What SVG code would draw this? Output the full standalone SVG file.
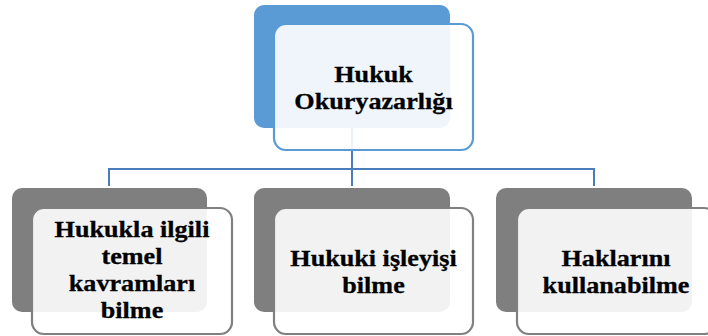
<svg xmlns="http://www.w3.org/2000/svg" width="708" height="336" viewBox="0 0 708 336">
<style>
.back-blue{fill:#5B9BD5;}
.back-gray{fill:#7F7F7F;}
.front-blue{fill:#FFFFFF;fill-opacity:0.9;stroke:#5B9BD5;stroke-width:2.2;}
.front-gray{fill:#FFFFFF;fill-opacity:0.9;stroke:#808080;stroke-width:2.2;}
.conn{fill:none;stroke:#4A7EBB;stroke-width:2;}
text{font-family:'Liberation Serif','DejaVu Serif',serif;font-weight:700;font-size:24px;fill:#000;stroke:#000;stroke-width:0.3;text-anchor:middle;}
</style>
<rect width="708" height="336" fill="#FFFFFF"/>
<g id="connectors">
<path class="conn" d="M352,128 V169"/>
<path class="conn" d="M109,186 V169 H594 V186"/>
<path class="conn" d="M352,169 V186"/>
</g>
<g id="node-root">
<rect class="back-blue" x="254" y="5" width="196" height="123" rx="10"/>
<rect class="front-blue" x="274" y="24" width="199" height="126" rx="12"/>
<g transform="translate(373.5,0) scale(1.09,1)">
<text x="0" y="82">Hukuk</text>
<text x="0" y="109">Okuryazarlığı</text>
</g>
</g>
<g id="node-kavram">
<rect class="back-gray" x="12" y="188" width="195" height="124" rx="10"/>
<rect class="front-gray" x="32" y="208" width="200" height="126" rx="12"/>
<g transform="translate(132,0) scale(1.09,1)">
<text x="0" y="237">Hukukla ilgili</text>
<text x="0" y="264">temel</text>
<text x="0" y="291">kavramları</text>
<text x="0" y="318">bilme</text>
</g>
</g>
<g id="node-isleyis">
<rect class="back-gray" x="254" y="188" width="196" height="124" rx="10"/>
<rect class="front-gray" x="274" y="208" width="199" height="126" rx="12"/>
<g transform="translate(373.5,0) scale(1.09,1)">
<text x="0" y="266">Hukuki işleyişi</text>
<text x="0" y="293">bilme</text>
</g>
</g>
<g id="node-haklar">
<rect class="back-gray" x="496" y="188" width="196" height="124" rx="10"/>
<rect class="front-gray" x="517" y="208" width="199" height="126" rx="12"/>
<g transform="translate(616,0) scale(1.09,1)">
<text x="0" y="266">Haklarını</text>
<text x="0" y="293">kullanabilme</text>
</g>
</g>
</svg>
